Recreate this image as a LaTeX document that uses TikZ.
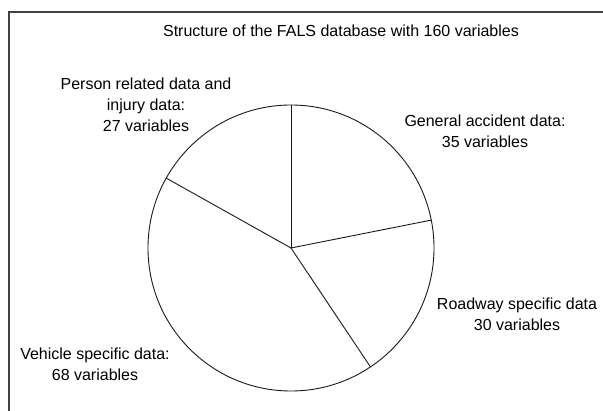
\documentclass[tikz,border=0pt]{standalone}
\usepackage{fontspec}
\setmainfont{Liberation Sans}
\begin{document}
\begin{tikzpicture}[x=1pt,y=-1pt,
  lbl/.style={align=center,font=\fontsize{16}{21}\selectfont,inner sep=0pt},
  wedge/.style={draw=black!90,line width=0.9pt},
  frameline/.style={draw=black!75,line width=1.3pt}]
\useasboundingbox (0,0) rectangle (603,411);
% open frame: top and left edges only
\draw[frameline] (9,411) -- (9,12) -- (603,12);
% title
\node[lbl] (title) at (341,31) {Structure of the FALS database with 160 variables};
% pie chart, 160 variables in total (y axis points down, so angles run clockwise)
\coordinate (c) at (291,248);
\def\rad{143}
\draw[wedge] (c) circle[radius=\rad];
\draw[wedge] (c) -- ++(-90:\rad);
\draw[wedge] (c) -- ++(-11.25:\rad);
\draw[wedge] (c) -- ++(56.25:\rad);
\draw[wedge] (c) -- ++(-150.75:\rad);
% slice labels
\node[lbl] (person) at (146,105) {Person related data and\\injury data:\\27 variables};
\node[lbl] (general) at (485,131) {General accident data:\\35 variables};
\node[lbl] (roadway) at (517,314) {Roadway specific data\\30 variables};
\node[lbl] (vehicle) at (95,364) {Vehicle specific data:\\68 variables};
\end{tikzpicture}
\end{document}
